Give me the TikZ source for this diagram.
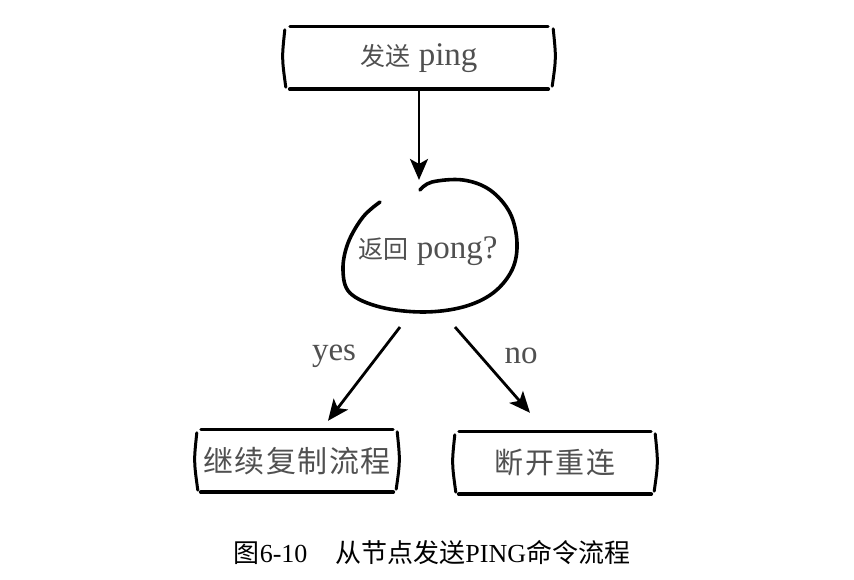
\documentclass[tikz,border=0pt]{standalone}
\usepackage{fontspec}
\setmainfont{Liberation Serif}
\newfontfamily\cjk{Noto Sans CJK SC}
\usetikzlibrary{arrows.meta}
\definecolor{inkgray}{RGB}{80,80,80}

\begin{document}
\begin{tikzpicture}[x=1pt, y=-1pt,
  sketch/.style={line width=3pt, line cap=round},
  flow/.style={line width=2.8pt, -{Stealth[length=21pt, width=18pt, inset=5pt]}},
  lbl/.style={text=inkgray, font=\fontsize{33}{38}\selectfont},
  stepbox/.style={lbl, minimum height=62pt, inner sep=0pt}]
\useasboundingbox (0,0) rectangle (854,580);
% the three boxes
\node[stepbox, minimum width=258pt] (send) at (419,58)
  {{\cjk\fontsize{25}{30}\selectfont 发送} ping};
\node[stepbox, minimum width=192pt] (cont) at (297,461)
  {\cjk\fontsize{30}{34}\selectfont 继\hspace{1.5pt}续\hspace{1.5pt}复\hspace{1.5pt}制\hspace{1.5pt}流\hspace{1.5pt}程};
\node[stepbox, minimum width=192pt] (reconn) at (555,463)
  {\cjk\fontsize{29}{34}\selectfont 断\hspace{1.5pt}开\hspace{1.5pt}重\hspace{1.5pt}连};
% hand drawn edges of the boxes
\foreach \n/\s in {send/5, cont/4, reconn/4} {
  \draw[sketch] (\n.north west) -- (\n.north east);
  \draw[sketch, line width=3.8pt] (\n.south west) -- (\n.south east);
  \draw[sketch] ([shift={(-\s pt,-3pt)}]\n.north west)
    .. controls ([xshift=-\s pt-3pt]\n.west) .. ([shift={(-\s pt+1pt,2pt)}]\n.south west);
  \draw[sketch] ([shift={(\s pt,-2pt)}]\n.north east)
    .. controls ([xshift=\s pt+3pt]\n.east) .. ([shift={(\s pt-1pt,3pt)}]\n.south east);
}
% the question blob
\node[lbl, circle, minimum size=132pt, inner sep=0pt] (pong) at (428,251)
  {{\cjk\fontsize{25}{30}\selectfont 返回} pong?};
\draw[line width=3.6pt, line cap=round] plot[smooth, tension=0.6] coordinates {
  (380,202) (363,217) (348,243) (343,270) (350,293) (380,307) (423,312)
  (463,307) (493,293) (512,270) (517,243) (510,213) (490,190) (463,180)
  (432,182) (420,190)};
% arrows
\draw[flow] (send.south) -- (send.south |- pong.north);
\draw[flow] ([shift={(-28pt,-5pt)}]pong.south) -- ([shift={(31pt,9pt)}]cont.north);
\draw[flow] ([shift={(27pt,-5pt)}]pong.south) -- ([shift={(-25pt,19pt)}]reconn.north);
\node[lbl] (yes) at (334,356) {yes};
\node[lbl] (no) at (521,356) {no};
% caption
\node (caption) at (432,553) {\cjk\fontsize{26}{30}\selectfont
  图{\rmfamily 6-10}\hspace{28pt}从节点发送{\rmfamily PING}命令流程};
\end{tikzpicture}
\end{document}
